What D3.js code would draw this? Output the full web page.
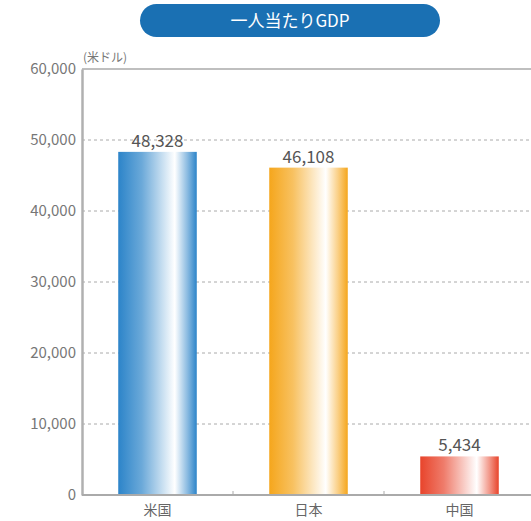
<!DOCTYPE html>
<html>
<head>
<meta charset="utf-8">
<script src="https://cdn.jsdelivr.net/npm/d3@7"></script>
<style>
  body { margin: 0; background: #fff; }
  text { font-family: "Noto Sans CJK JP", "Noto Sans", sans-serif; }
</style>
</head>
<body>
<div id="chart"></div>
<script>
const title = '一人当たりGDP'
const unit = '(米ドル)'
const countries = ['米国', '日本', '中国']
const gdp = [48328, 46108, 5434]
const yTicks = [0, 10000, 20000, 30000, 40000, 50000, 60000]
const barColors = ['#2c84c9', '#f5a61c', '#e8442b']

const width = 531
const height = 521
const margin = {top: 69, right: -4, bottom: 26, left: 82}

const svg = d3.select('#chart')
  .append('svg')
  .attr('width', width)
  .attr('height', height)

// gradients, colour -> white -> colour again at the right edge
const defs = svg.append('defs')
barColors.forEach((c, i) => {
  const g = defs.append('linearGradient')
    .attr('id', 'grad' + i)
    .attr('x1', '0%').attr('x2', '100%')
  const light = d3.interpolateRgb(c, '#fff')
  g.append('stop').attr('offset', '0%').attr('stop-color', c)
  g.append('stop').attr('offset', '30%').attr('stop-color', light(0.3))
  g.append('stop').attr('offset', '72%').attr('stop-color', '#fff')
  g.append('stop').attr('offset', '88%').attr('stop-color', light(0.45))
  g.append('stop').attr('offset', '100%').attr('stop-color', c)
})

// title pill
svg.append('rect')
  .attr('x', 140).attr('y', 4)
  .attr('width', 300).attr('height', 33)
  .attr('rx', 16.5)
  .attr('fill', '#1a70b3')
svg.append('text')
  .attr('x', 290).attr('y', 27)
  .attr('text-anchor', 'middle')
  .attr('fill', '#fff')
  .attr('font-size', 17)
  .text(title)

const x = d3.scaleBand()
  .domain(countries)
  .range([margin.left, width - margin.right])
  .paddingInner(0.48)
  .paddingOuter(0.24)

const y = d3.scaleLinear()
  .domain([0, 60000])
  .range([height - margin.bottom, margin.top])

// grid
svg.append('g')
  .selectAll('line')
  .data(yTicks.filter(d => d > 0 && d < 60000))
  .join('line')
  .attr('x1', margin.left).attr('x2', width)
  .attr('y1', d => y(d)).attr('y2', d => y(d))
  .attr('stroke', '#aaa')
  .attr('stroke-width', 1)
  .attr('stroke-dasharray', '3,3')

// top line
svg.append('line')
  .attr('x1', margin.left).attr('x2', width)
  .attr('y1', y(60000)).attr('y2', y(60000))
  .attr('stroke', '#aaa').attr('stroke-width', 1.5)

// y axis
const yAxis = svg.append('g')
  .attr('transform', `translate(${margin.left},0)`)
  .call(d3.axisLeft(y).tickValues(yTicks).tickSize(0).tickPadding(6)
    .tickFormat(d3.format(',')))
yAxis.select('.domain').attr('stroke', '#b0b0b0').attr('stroke-width', 2.5)
yAxis.selectAll('text')
  .attr('font-size', 15)
  .attr('fill', '#777')
  .attr('font-family', '"Open Sans", "Noto Sans", sans-serif')

svg.append('text')
  .attr('x', margin.left + 1).attr('y', y(60000) - 7)
  .attr('font-size', 12)
  .attr('fill', '#777')
  .text(unit)

// bars
svg.append('g')
  .selectAll('rect')
  .data(countries)
  .join('rect')
  .attr('x', d => x(d))
  .attr('y', (d, i) => y(gdp[i]))
  .attr('width', x.bandwidth())
  .attr('height', (d, i) => y(0) - y(gdp[i]))
  .attr('fill', (d, i) => `url(#grad${i})`)

// value labels
svg.append('g')
  .selectAll('text')
  .data(countries)
  .join('text')
  .attr('x', d => x(d) + x.bandwidth() / 2)
  .attr('y', (d, i) => y(gdp[i]) - 5)
  .attr('text-anchor', 'middle')
  .attr('font-size', 17)
  .attr('fill', '#555')
  .attr('font-family', '"Open Sans", "Noto Sans", sans-serif')
  .text((d, i) => d3.format(',')(gdp[i]))

// x axis baseline
const xAxis = svg.append('g')
  .attr('transform', `translate(0,${y(0)})`)
xAxis.append('line')
  .attr('x1', margin.left).attr('x2', width)
  .attr('stroke', '#aaa').attr('stroke-width', 2)
// little separators between the categories
xAxis.selectAll('.sep')
  .data(countries.slice(1))
  .join('line')
  .attr('class', 'sep')
  .attr('x1', d => x(d) - x.step() * x.paddingInner() / 2)
  .attr('x2', d => x(d) - x.step() * x.paddingInner() / 2)
  .attr('y1', -4).attr('y2', 0)
  .attr('stroke', '#aaa')
xAxis.selectAll('.cat')
  .data(countries)
  .join('text')
  .attr('class', 'cat')
  .attr('x', d => x(d) + x.bandwidth() / 2)
  .attr('y', 20)
  .attr('text-anchor', 'middle')
  .attr('font-size', 14)
  .attr('fill', '#666')
  .text(d => d)
</script>
</body>
</html>
